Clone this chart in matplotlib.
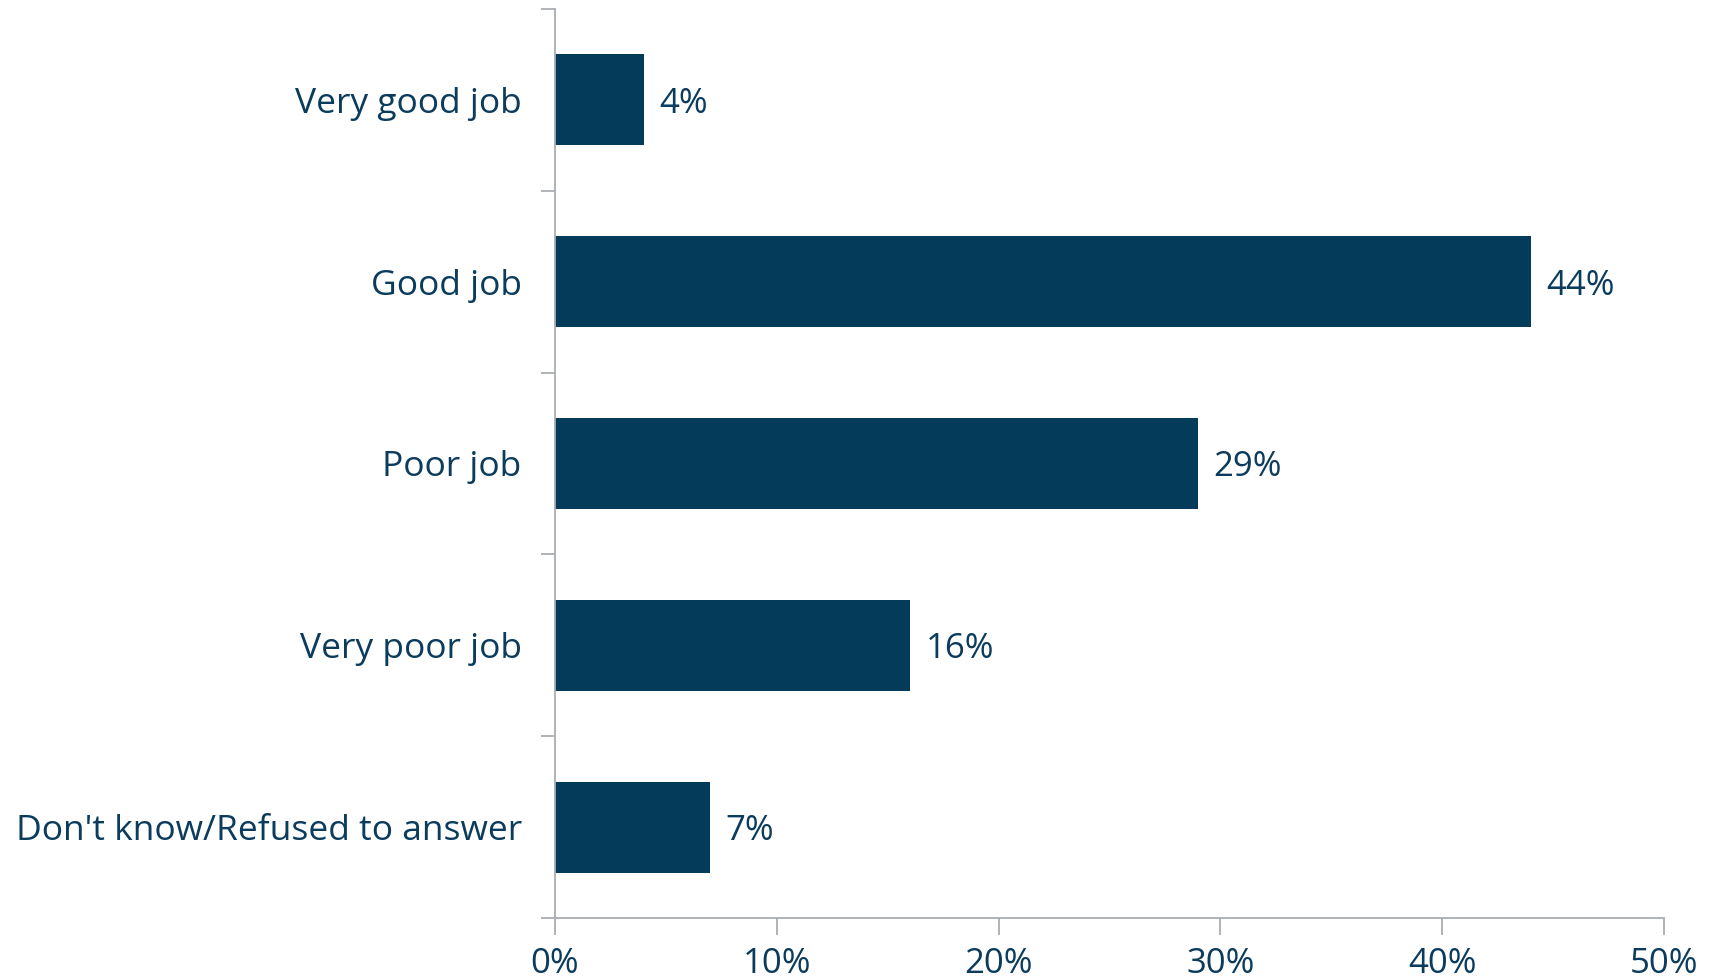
import numpy as np
import matplotlib.pyplot as plt
from matplotlib.ticker import PercentFormatter

categories = ["Very good job", "Good job", "Poor job", "Very poor job", "Don't know/Refused to answer"]
values = [4, 44, 29, 16, 7]

BAR = "#043A5A"
TEXT = "#0B3C5D"
AXIS = "#A9AEB3"

plt.rcParams["font.family"] = ["Open Sans", "DejaVu Sans"]

fig = plt.figure(figsize=(17.11, 9.8), dpi=100)
ax = fig.add_axes([0.3244, 0.0633, 0.9725 - 0.3244, 0.9908 - 0.0633])

y = np.arange(len(categories))
ax.barh(y, values, height=0.5, color=BAR)
ax.set_ylim(len(categories) - 0.5, -0.5)
ax.set_xlim(0, 50)

for yi, v in zip(y, values):
    ax.text(v + 0.7, yi, f"{v}%", va="center_baseline", ha="left", fontsize=25, color=TEXT)

ax.set_yticks(y)
ax.set_yticklabels(categories)
ax.set_yticks(np.arange(-0.5, len(categories)), minor=True)
ax.tick_params(axis="y", which="major", length=0, pad=24, labelsize=25.5, labelcolor=TEXT)
ax.tick_params(axis="y", which="minor", length=10, color=AXIS, width=1.3)
for lbl in ax.get_yticklabels():
    lbl.set_verticalalignment("center_baseline")

ax.set_xticks(np.arange(0, 51, 10))
ax.xaxis.set_major_formatter(PercentFormatter(decimals=0))
ax.tick_params(axis="x", length=12, color=AXIS, width=1.3, pad=9, labelsize=25, labelcolor=TEXT)

for s in ["top", "right"]:
    ax.spines[s].set_visible(False)
for s in ["left", "bottom"]:
    ax.spines[s].set_color(AXIS)
    ax.spines[s].set_linewidth(1.3)

fig.savefig("out.png", dpi=100)
